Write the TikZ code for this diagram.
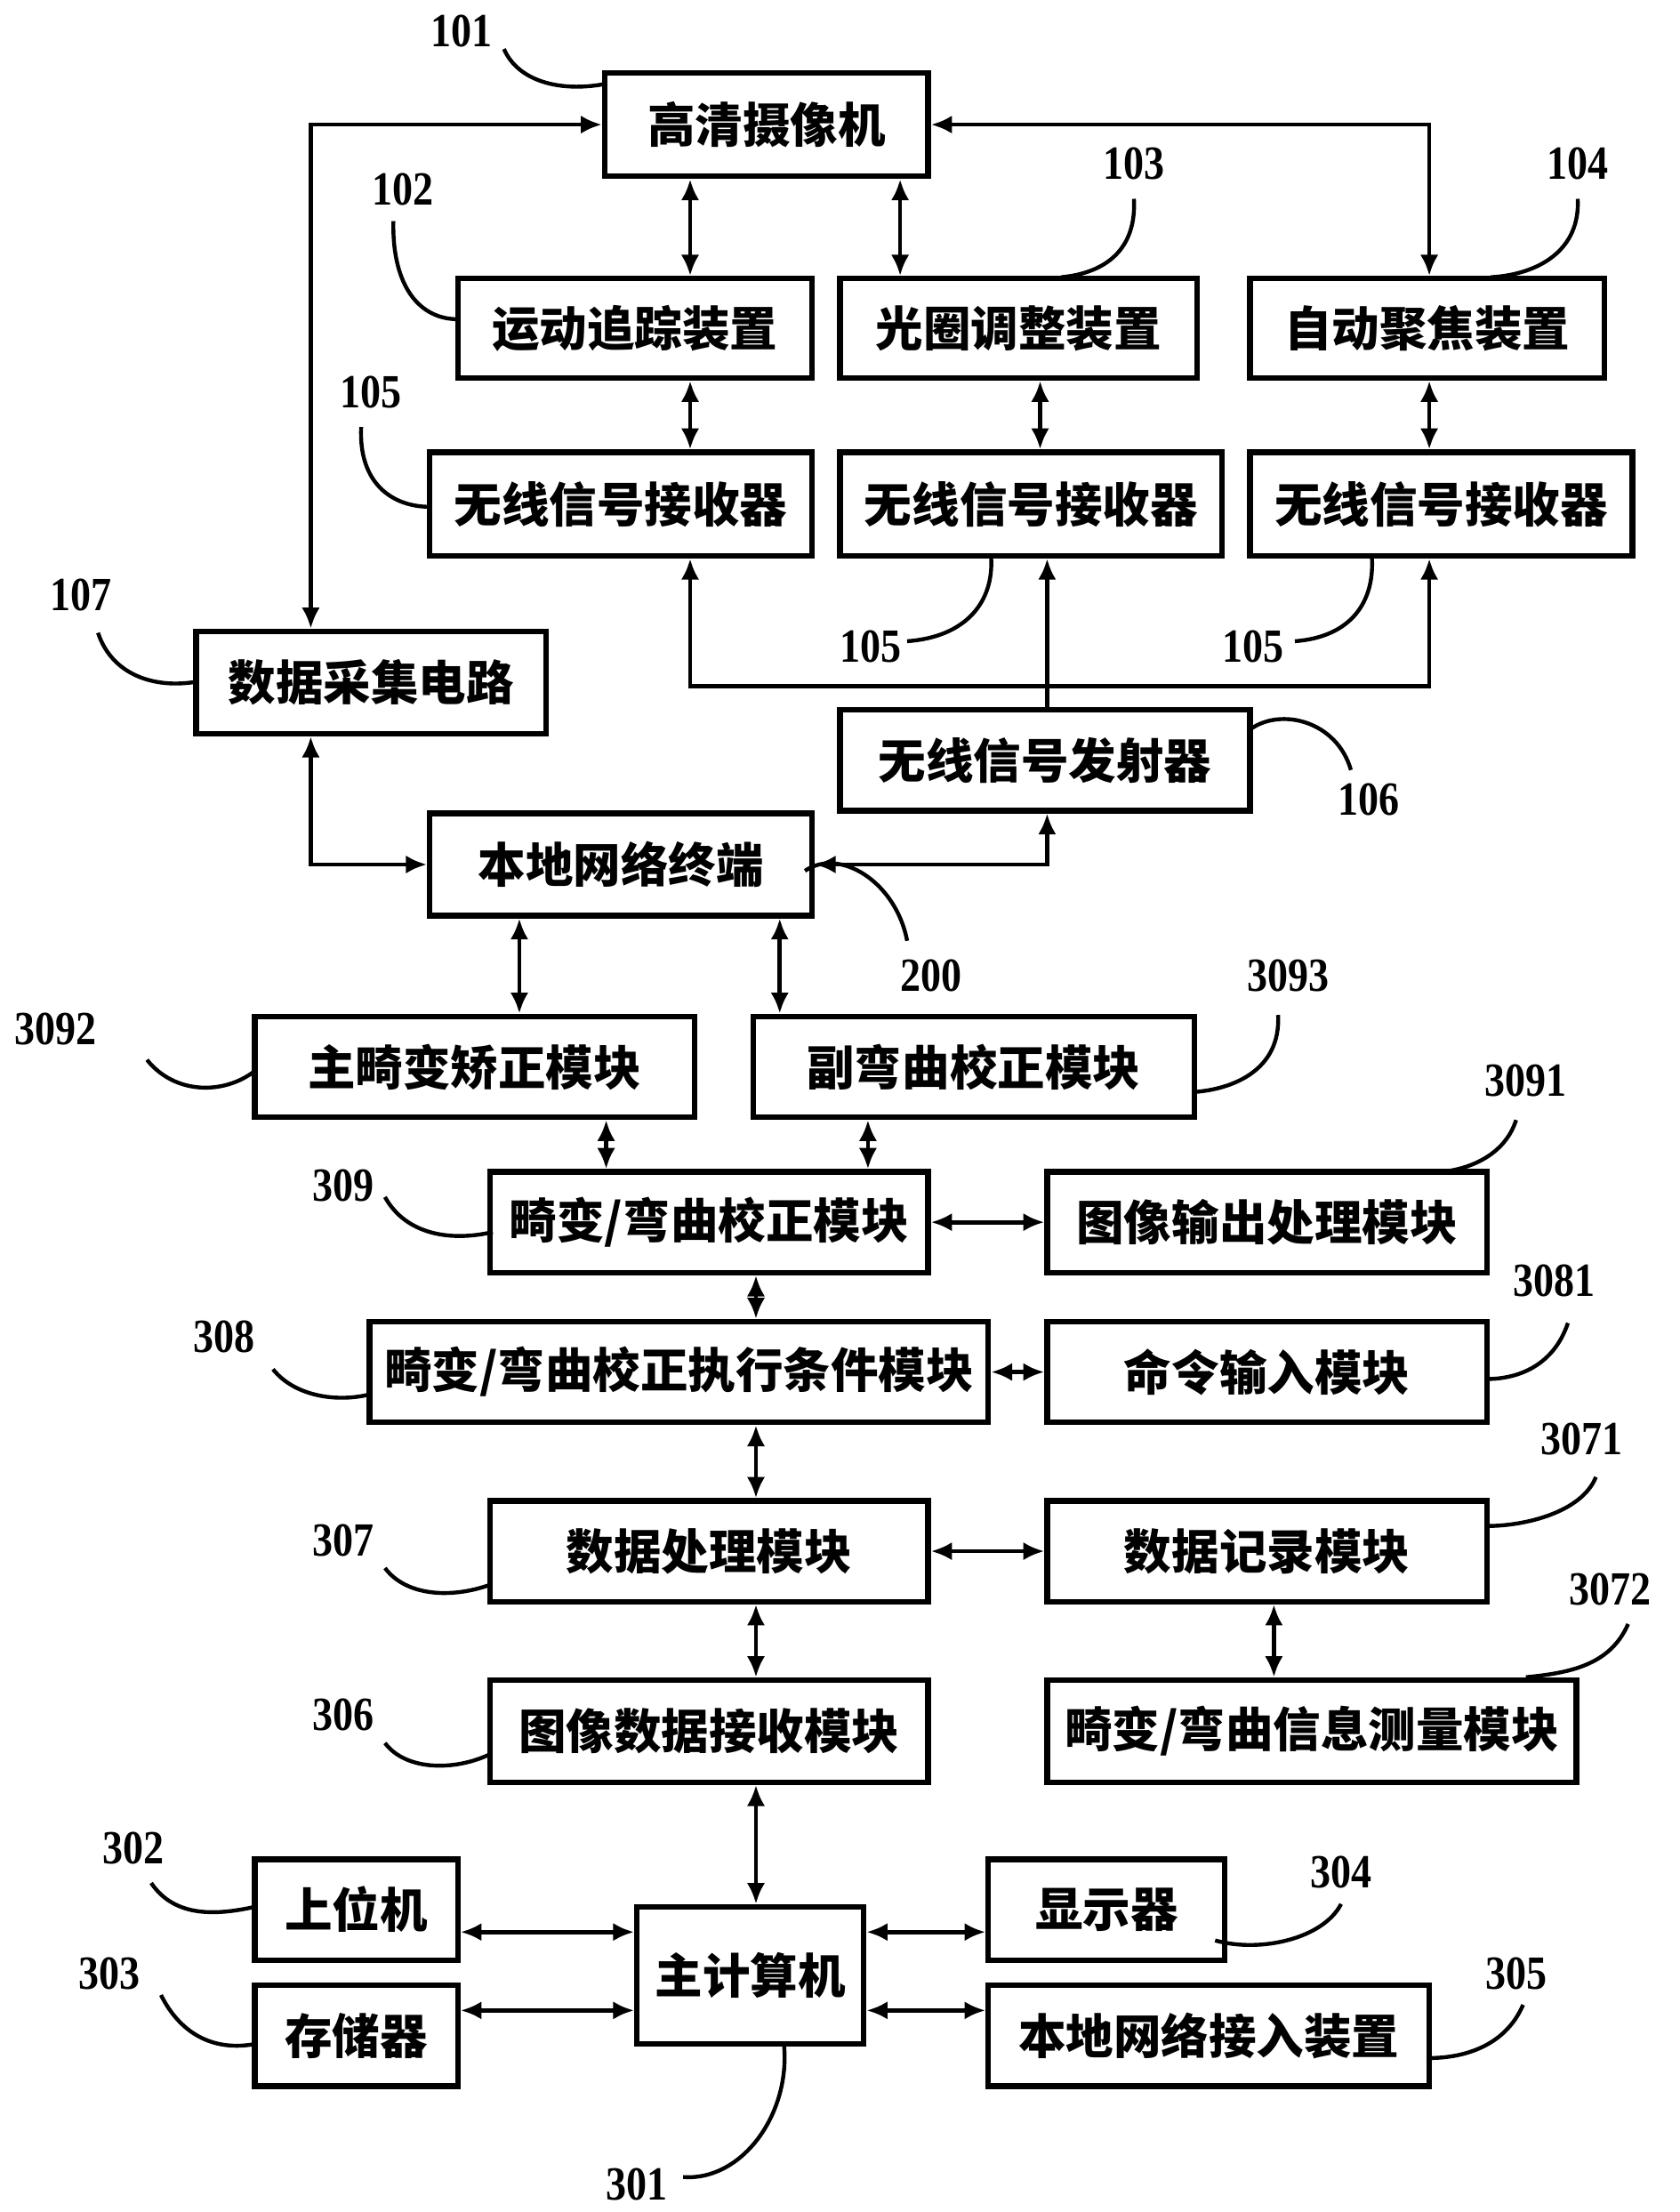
\documentclass[tikz,border=0pt]{standalone}
\usepackage{fontspec}
\setmainfont{Noto Sans CJK SC}
\newfontfamily\numfamily{Liberation Serif}[FakeStretch=0.86]
\newcommand\zh{\fontsize{17pt}{20pt}\selectfont\bfseries}
\newcommand\numf{\fontsize{17pt}{20pt}\selectfont\numfamily\bfseries}
\usetikzlibrary{arrows.meta}
\newcommand\bx[6]{\node[box,minimum width={(#4-#2)*0.5pt},minimum height={(#5-#3)*0.5pt}] (#1) at ({(#2+#4)/2},{(#3+#5)/2}) {#6};}
\begin{document}
\begin{tikzpicture}[x=0.5pt,y=-0.5pt,
 box/.style={draw,line width=2pt,inner sep=0pt,font=\zh},
 con/.style={line width=1.5pt},
 dar/.style={con,{Latex[length=7.5pt,width=6.5pt]}-{Latex[length=7.5pt,width=6.5pt]}},
 sar/.style={con,-{Latex[length=7.5pt,width=6.5pt]}},
 lead/.style={line width=1.4pt},
 num/.style={font=\numf,inner sep=0pt}]
\useasboundingbox[fill=white] (0,0) rectangle (1200,1580);
% boxes
\bx{cam}{432}{52}{663}{126}{高清摄像机}
\bx{mt}{327}{199}{580}{270}{运动追踪装置}
\bx{ap}{600}{199}{855}{270}{光圈调整装置}
\bx{af}{893}{199}{1146}{270}{自动聚焦装置}
\bx{r1}{307}{323}{580}{397}{无线信号接收器}
\bx{r2}{600}{323}{873}{397}{无线信号接收器}
\bx{r3}{893}{323}{1166}{397}{无线信号接收器}
\bx{dac}{140}{451}{390}{524}{数据采集电路}
\bx{tx}{600}{507}{893}{579}{无线信号发射器}
\bx{lnt}{307}{581}{580}{654}{本地网络终端}
\bx{m1}{182}{726}{496}{798}{主畸变矫正模块}
\bx{m2}{538}{726}{853}{798}{副弯曲校正模块}
\bx{m309}{350}{837}{663}{909}{畸变/弯曲校正模块}
\bx{m3091}{748}{837}{1062}{909}{图像输出处理模块}
\bx{m308}{264}{944}{706}{1016}{畸变/弯曲校正执行条件模块}
\bx{m3081}{748}{944}{1062}{1016}{命令输入模块}
\bx{m307}{350}{1072}{663}{1144}{数据处理模块}
\bx{m3071}{748}{1072}{1062}{1144}{数据记录模块}
\bx{m306}{350}{1200}{663}{1273}{图像数据接收模块}
\bx{m3072}{748}{1200}{1126}{1273}{畸变/弯曲信息测量模块}
\bx{m302}{182}{1328}{327}{1400}{上位机}
\bx{m303}{182}{1418}{327}{1490}{存储器}
\bx{m301}{455}{1362}{617}{1460}{主计算机}
\bx{m304}{706}{1328}{875}{1400}{显示器}
\bx{m305}{706}{1418}{1021}{1490}{本地网络接入装置}
% connectors
\draw[dar] (cam.west) -- (222,0 |- cam.west) -- (dac.north -| 222,0);
\draw[dar] (cam.east) -- (1021,0 |- cam.east) -- (af.north -| 1021,0);
\draw[dar] (cam.south -| 493,0) -- (mt.north -| 493,0);
\draw[dar] (cam.south -| 643,0) -- (ap.north -| 643,0);
\draw[dar] (mt.south -| 493,0) -- (r1.north -| 493,0);
\draw[dar] (ap.south -| 743,0) -- (r2.north -| 743,0);
\draw[dar] (af.south -| 1021,0) -- (r3.north -| 1021,0);
\draw[sar] (tx.north -| 748,0) -- (r2.south -| 748,0);
\draw[dar] (r1.south -| 493,0) -- (493,490) -- (1021,490) -- (r3.south -| 1021,0);
\draw[dar] (dac.south -| 222,0) -- (222,0 |- lnt.west) -- (lnt.west);
\draw[dar] (lnt.east) -- (748,0 |- lnt.east) -- (tx.south -| 748,0);
\draw[dar] (lnt.south -| 371,0) -- (m1.north -| 371,0);
\draw[dar] (lnt.south -| 557,0) -- (m2.north -| 557,0);
\draw[dar] (m1.south -| 433,0) -- (m309.north -| 433,0);
\draw[dar] (m2.south -| 620,0) -- (m309.north -| 620,0);
\draw[dar] (m309.east) -- (m3091.west);
\draw[dar] (m309.south -| 540,0) -- (m308.north -| 540,0);
\draw[dar] (m308.east) -- (m3081.west);
\draw[dar] (m308.south -| 540,0) -- (m307.north -| 540,0);
\draw[dar] (m307.east) -- (m3071.west);
\draw[dar] (m307.south -| 540,0) -- (m306.north -| 540,0);
\draw[dar] (m3071.south -| 910,0) -- (m3072.north -| 910,0);
\draw[dar] (m306.south -| 540,0) -- (m301.north -| 540,0);
\draw[dar] (m302.east |- 0,1380) -- (m301.west |- 0,1380);
\draw[dar] (m303.east |- 0,1436) -- (m301.west |- 0,1436);
\draw[dar] (m301.east |- 0,1380) -- (m304.west |- 0,1380);
\draw[dar] (m301.east |- 0,1436) -- (m305.west |- 0,1436);
% labels
\node[num] (l101) at (330,22) {101};
\node[num] (l102) at (288,135) {102};
\node[num] (l103) at (810,117) {103};
\node[num] (l104) at (1127,117) {104};
\node[num] (l105a) at (265,280) {105};
\node[num] (l105b) at (622,462) {105};
\node[num] (l105c) at (895,462) {105};
\node[num] (l107) at (58,425) {107};
\node[num] (l106) at (978,571) {106};
\node[num] (l200) at (665,697) {200};
\node[num] (l3092) at (40,735) {3092};
\node[num] (l3093) at (920,697) {3093};
\node[num] (l3091) at (1090,772) {3091};
\node[num] (l309) at (245,847) {309};
\node[num] (l3081) at (1110,915) {3081};
\node[num] (l308) at (160,955) {308};
\node[num] (l3071) at (1130,1028) {3071};
\node[num] (l307) at (245,1100) {307};
\node[num] (l3072) at (1150,1135) {3072};
\node[num] (l306) at (245,1225) {306};
\node[num] (l302) at (95,1320) {302};
\node[num] (l304) at (958,1337) {304};
\node[num] (l303) at (78,1410) {303};
\node[num] (l305) at (1083,1410) {305};
\node[num] (l301) at (455,1560) {301};
% leaders
\draw[lead] (360,35) .. controls (370,58) and (400,66) .. (432,60);
\draw[lead] (281,158) .. controls (280,205) and (300,228) .. (327,228);
\draw[lead] (810,142) .. controls (812,178) and (790,195) .. (758,198);
\draw[lead] (1127,142) .. controls (1129,178) and (1100,196) .. (1065,198);
\draw[lead] (258,305) .. controls (256,345) and (280,362) .. (307,362);
\draw[lead] (648,458) .. controls (690,455) and (710,430) .. (708,398);
\draw[lead] (925,458) .. controls (965,455) and (982,430) .. (980,398);
\draw[lead] (70,452) .. controls (80,482) and (110,492) .. (140,487);
\draw[lead] (893,521) .. controls (915,505) and (955,515) .. (965,550);
\draw[lead] (575,622) .. controls (600,605) and (640,630) .. (648,672);
\draw[lead] (105,757) .. controls (125,782) and (160,782) .. (182,765);
\draw[lead] (913,725) .. controls (915,765) and (880,778) .. (853,780);
\draw[lead] (1083,800) .. controls (1075,825) and (1050,835) .. (1030,837);
\draw[lead] (275,855) .. controls (290,882) and (322,887) .. (352,880);
\draw[lead] (1120,945) .. controls (1110,975) and (1085,985) .. (1062,985);
\draw[lead] (195,978) .. controls (210,997) and (240,1002) .. (264,996);
\draw[lead] (1140,1055) .. controls (1130,1080) and (1090,1090) .. (1062,1090);
\draw[lead] (275,1120) .. controls (290,1140) and (322,1142) .. (350,1132);
\draw[lead] (1163,1160) .. controls (1150,1190) and (1120,1195) .. (1090,1198);
\draw[lead] (275,1245) .. controls (290,1265) and (325,1265) .. (350,1253);
\draw[lead] (108,1345) .. controls (125,1370) and (155,1368) .. (182,1362);
\draw[lead] (868,1386) .. controls (900,1395) and (945,1385) .. (958,1360);
\draw[lead] (115,1425) .. controls (130,1455) and (155,1465) .. (182,1460);
\draw[lead] (1088,1432) .. controls (1075,1462) and (1045,1470) .. (1021,1470);
\draw[lead] (488,1555) .. controls (530,1558) and (565,1510) .. (560,1460);
\end{tikzpicture}
\end{document}
